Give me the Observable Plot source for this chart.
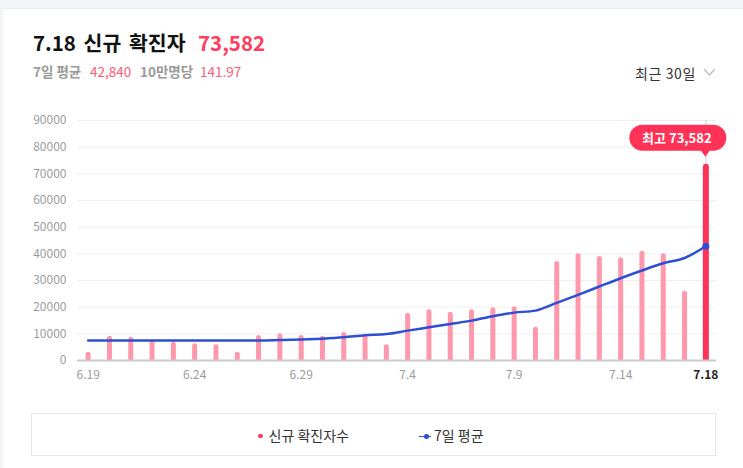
<!DOCTYPE html>
<html>
<head>
<meta charset="utf-8">
<script src="https://cdn.jsdelivr.net/npm/d3@7"></script>
<script src="https://cdn.jsdelivr.net/npm/@observablehq/plot@0.6"></script>
<style>
  html, body { margin: 0; padding: 0; }
  body { width: 743px; height: 468px; background: #f4f5f7; position: relative; overflow: hidden;
         font-family: "Noto Sans CJK KR", "Noto Sans", sans-serif; }
  #card { position: absolute; left: 3px; top: 8px; width: 740px; height: 460px; background: #fff; border-top: 1px solid #eaecef; }
  .abs { position: absolute; white-space: nowrap; }
  .t { top: 32px; font-size: 20.5px; line-height: 20px; font-weight: 700; color: #111; word-spacing: 3px; }
  .t.num { color: #ff3d5e; word-spacing: 0; }
  .s { top: 65px; font-size: 13.5px; line-height: 13.5px; color: #9a9a9a; font-weight: 700; }
  .s.r { color: #ff5a76; font-weight: 400; }
  #drop { left: 635px; top: 66px; font-size: 14px; line-height: 14px; color: #333; letter-spacing: 0.6px; }
  #chart { position: absolute; left: 0; top: 100px; }
  #legend { position: absolute; left: 31px; top: 413px; width: 683px; height: 41px; border: 1px solid #e6e6e6; background: #fff; }
  .lg { position: absolute; top: 428px; font-size: 14px; line-height: 14px; color: #333; }
</style>
</head>
<body>
<div id="card"></div>
<div id="header"></div>
<div id="drop" class="abs"></div>
<svg class="abs" style="left:700px;top:66px" width="20" height="14"><polyline points="4,3 9.5,9 15,3" fill="none" stroke="#bbb" stroke-width="1.2"/></svg>
<div id="chart"></div>
<div id="legend"></div>
<div id="lg1" class="lg"></div>
<div id="lg2" class="lg"></div>
<script>
// ---- data ----
const dates = ["6.19","6.20","6.21","6.22","6.23","6.24","6.25","6.26","6.27","6.28","6.29","6.30",
  "7.1","7.2","7.3","7.4","7.5","7.6","7.7","7.8","7.9","7.10","7.11","7.12","7.13","7.14","7.15","7.16","7.17","7.18"];
const cases = [3100, 9100, 8750, 7500, 6870, 6250, 5870, 3100, 9370, 10000, 9370, 9100,
  10500, 9620, 5870, 17750, 19000, 18120, 19000, 19750, 20120, 12500, 37120, 40000, 39000, 38500, 41000, 40000, 26000, 73582];
const avg7 = [7500, 7500, 7500, 7500, 7500, 7500, 7500, 7500, 7500, 7650, 7850, 8200,
  8700, 9450, 9900, 11200, 12450, 13700, 14950, 16600, 17950, 18700, 21600, 24600, 27750, 30850, 33750, 36450, 38450, 42840];
const yTicks = [0, 10000, 20000, 30000, 40000, 50000, 60000, 70000, 80000, 90000];
const xTickLabels = ["6.19", "6.24", "6.29", "7.4", "7.9", "7.14"];
const lastLabel = "7.18";
const titleParts = ["7.18 신규 확진자", "73,582"];
const subParts = ["7일 평균", "42,840", "10만명당", "141.97"];
const dropText = "최근 30일";
const peakLabel = "최고 73,582";
const legendLabels = ["신규 확진자수", "7일 평균"];

// ---- header (text placed to match the reference layout) ----
const header = document.getElementById("header");
const titleLeft = [33, 198];
titleParts.forEach((t, i) => {
  const el = document.createElement("div");
  el.className = "abs t" + (i === 1 ? " num" : "");
  el.style.left = titleLeft[i] + "px";
  el.textContent = t;
  header.appendChild(el);
});
const subLeft = [33, 90, 140, 200];
subParts.forEach((t, i) => {
  const el = document.createElement("div");
  el.className = "abs s" + (i % 2 ? " r" : "");
  el.style.left = subLeft[i] + "px";
  el.textContent = t;
  header.appendChild(el);
});
document.getElementById("drop").textContent = dropText;

const pink = "#ff98ab", red = "#ff3358", blue = "#2c4fd6";
const barData = dates.map((d, i) => ({date: d, value: cases[i]}));
const avgData = dates.map((d, i) => ({date: d, value: avg7[i]}));
const last = barData[barData.length - 1];

const plot = Plot.plot({
  width: 743, height: 300,
  marginTop: 20, marginBottom: 40, marginLeft: 77, marginRight: 27,
  style: {fontFamily: "'Noto Sans CJK KR', sans-serif", fontSize: "12px", background: "transparent", color: "#9c9c9c", overflow: "visible"},
  x: {type: "point", domain: dates, padding: 0.5, round: false, axis: null},
  y: {domain: [0, 90000], ticks: yTicks, tickSize: 0, tickPadding: 11, tickFormat: d => String(d), label: null},
  marks: [
    Plot.ruleY(yTicks.slice(1), {stroke: "#efefef", strokeWidth: 1}),
    Plot.ruleX([last], {x: "date", y1: 90000, y2: "value", stroke: "#cfcfcf", strokeWidth: 1}),
    Plot.ruleX(barData.slice(0, -1), {x: "date", y1: 0, y2: "value", dy: 2.5, stroke: pink, strokeWidth: 5, strokeLinecap: "round", clip: true}),
    Plot.ruleX([last], {x: "date", y1: 0, y2: "value", dy: 3, stroke: red, strokeWidth: 6, strokeLinecap: "round", clip: true}),
    Plot.ruleY([0], {stroke: "#c9c9c9", strokeWidth: 2}),
    Plot.line(avgData, {x: "date", y: "value", stroke: blue, strokeWidth: 2.5, curve: "monotone-x"}),
    Plot.dot([avgData[avgData.length - 1]], {x: "date", y: "value", r: 3.5, fill: blue}),
    Plot.text(xTickLabels, {x: d => d, frameAnchor: "bottom", dy: 18, fill: "#9c9c9c", fontSize: 12}),
    Plot.text([lastLabel], {x: d => d, frameAnchor: "bottom", dy: 18, fill: "#222", fontSize: 12, fontWeight: "bold"})
  ]
});
document.getElementById("chart").appendChild(plot);

// ---- peak callout, positioned through Plot's scales ----
const px = plot.scale("x").apply(last.date);
const py = plot.scale("y").apply(last.value);
const svg = d3.select(plot);
const g = svg.append("g");
g.append("rect").attr("x", px - 76).attr("y", py - 39).attr("width", 97).attr("height", 26).attr("rx", 13).attr("fill", red);
g.append("path").attr("d", `M${px - 5},${py - 14}L${px + 5},${py - 14}L${px},${py - 7}Z`).attr("fill", red);
g.append("text").attr("x", px - 28.5).attr("y", py - 26).attr("text-anchor", "middle").attr("dominant-baseline", "central")
  .attr("fill", "#fff").attr("font-size", 13).attr("font-weight", "bold").attr("font-family", "'Noto Sans CJK KR', sans-serif").text(peakLabel);

// ---- legend ----
const lg1 = document.getElementById("lg1");
lg1.style.left = "258px";
lg1.innerHTML = `<span style="display:inline-block;width:4.5px;height:4.5px;border-radius:50%;background:${red};vertical-align:middle;margin-right:6px;position:relative;top:-1px"></span>${legendLabels[0]}`;
const lg2 = document.getElementById("lg2");
lg2.style.left = "419px";
lg2.innerHTML = `<span style="display:inline-block;position:relative;width:12px;height:6px;vertical-align:middle;margin-right:3px;top:-1px"><span style="position:absolute;left:0;top:2.5px;width:12px;height:1.2px;background:${blue}"></span><span style="position:absolute;left:5px;top:1px;width:4.5px;height:4.5px;border-radius:50%;background:${blue}"></span></span>${legendLabels[1]}`;
</script>
</body>
</html>
